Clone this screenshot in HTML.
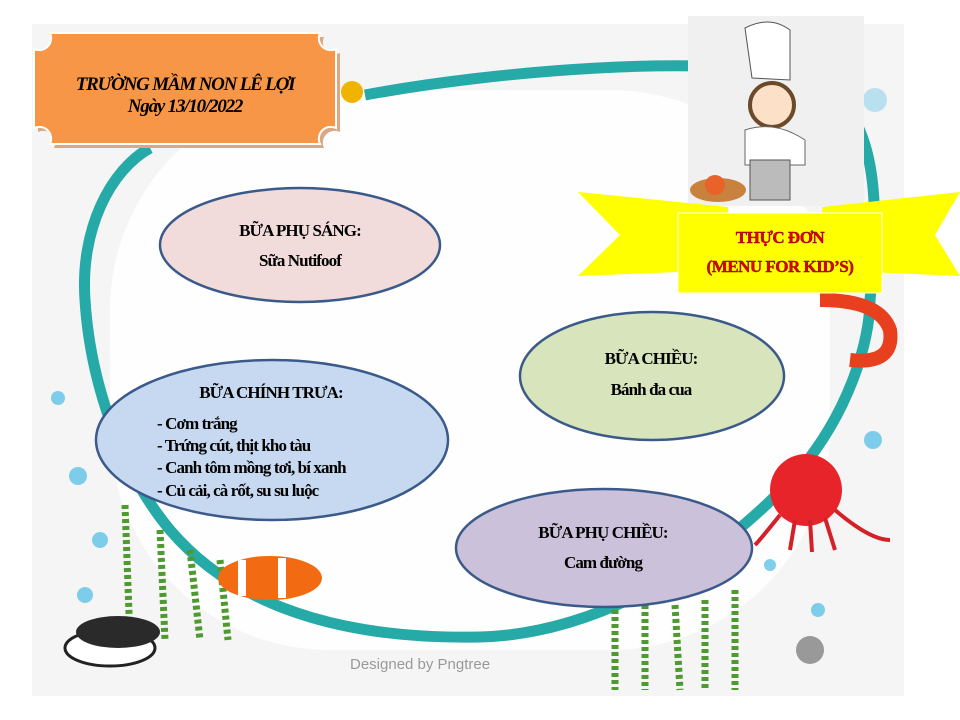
<!DOCTYPE html>
<html><head><meta charset="utf-8"><style>
body{margin:0;width:960px;height:720px;background:#fff;overflow:hidden;position:relative;font-family:"Liberation Serif","Noto Serif CJK SC",serif}
svg{position:absolute;left:0;top:0}
</style></head><body>
<svg width="960" height="720" viewBox="0 0 960 720">
<rect x="32" y="24" width="872" height="672" fill="#f5f5f5"/>
<rect x="110" y="90" width="720" height="560" rx="220" fill="#fefefe"/>
<!-- teal loop -->
<path d="M150,148 C110,170 80,230 85,300 C90,380 120,470 170,530 C230,600 330,640 480,637 C600,634 720,560 800,470 C850,410 870,340 870,300 C880,200 880,100 800,75 C700,55 500,70 365,95" fill="none" stroke="#26aaa7" stroke-width="11"/>
<circle cx="352" cy="92" r="11" fill="#f0b400"/>
<!-- bubbles -->
<g fill="#5fc2e8" opacity="0.8">
<circle cx="58" cy="398" r="7"/><circle cx="78" cy="476" r="9"/><circle cx="100" cy="540" r="8"/><circle cx="85" cy="595" r="8"/>
<circle cx="873" cy="440" r="9"/><circle cx="770" cy="565" r="6"/><circle cx="818" cy="610" r="7"/><circle cx="875" cy="100" r="12" opacity="0.5"/>
</g>
<!-- seaweed -->
<g stroke="#4e9a2e" stroke-width="7" fill="none" stroke-dasharray="4 3">
<path d="M125,505 L130,640"/><path d="M160,530 L165,640"/><path d="M190,550 L200,640"/><path d="M220,560 L228,640"/>
<path d="M615,610 L615,690"/><path d="M645,605 L645,690"/><path d="M675,605 L680,690"/><path d="M705,600 L705,690"/><path d="M735,590 L735,690"/>
</g>
<!-- clam -->
<ellipse cx="110" cy="648" rx="45" ry="18" fill="#fff" stroke="#222" stroke-width="3"/>
<ellipse cx="118" cy="632" rx="42" ry="16" fill="#2a2a2a"/>
<!-- fish -->
<ellipse cx="270" cy="578" rx="52" ry="22" fill="#f26a12"/>
<rect x="238" y="560" width="8" height="36" fill="#fff"/><rect x="278" y="558" width="8" height="40" fill="#fff"/>
<!-- octopus -->
<circle cx="806" cy="490" r="36" fill="#e8242b"/>
<g stroke="#d42028" stroke-width="4" fill="none"><path d="M780,515 Q760,540 755,545"/><path d="M795,520 L790,550"/><path d="M810,520 L812,552"/><path d="M825,518 L835,550"/><path d="M835,510 Q870,540 890,540"/></g>
<!-- shrimp -->
<path d="M820,300 Q880,300 890,330 Q895,365 850,360" fill="none" stroke="#e8401e" stroke-width="14"/>
<!-- snail -->
<circle cx="810" cy="650" r="14" fill="#999"/>
<text x="350" y="669" font-family="Liberation Sans,sans-serif" font-size="15" fill="#999">Designed by Pngtree</text>
<!-- orange label -->
<path d="M52,35 H322 A12,12 0 0 0 338,51 V130 A12,12 0 0 0 322,146 H52 A12,12 0 0 0 36,130 V51 A12,12 0 0 0 52,35 Z" fill="#d9a884" transform="translate(2,2)"/>
<path d="M50,33 H320 A12,12 0 0 0 336,49 V128 A12,12 0 0 0 320,144 H50 A12,12 0 0 0 34,128 V49 A12,12 0 0 0 50,33 Z" fill="#f79646" stroke="#fff" stroke-width="2"/>
<text x="185" y="90" text-anchor="middle" font-size="19" font-weight="bold" font-style="italic" letter-spacing="-1.2">TRƯỜNG MẦM NON LÊ LỢI</text>
<text x="185" y="112" text-anchor="middle" font-size="19" font-weight="bold" font-style="italic" letter-spacing="-1.2">Ngày 13/10/2022</text>
<!-- chef image -->
<rect x="688" y="16" width="176" height="190" fill="#f0f0f0"/>
<path d="M745,28 Q770,15 790,30 L790,80 L752,78 Z" fill="#fff" stroke="#555"/>
<circle cx="772" cy="105" r="22" fill="#fde0c8" stroke="#6b4a2a" stroke-width="4"/>
<path d="M745,130 Q775,120 805,140 L805,165 L745,165 Z" fill="#fff" stroke="#666"/>
<rect x="750" y="160" width="40" height="40" fill="#bbb" stroke="#555"/>
<ellipse cx="718" cy="190" rx="28" ry="12" fill="#c8823e"/>
<circle cx="715" cy="185" r="10" fill="#e8622a"/>
<!-- banner -->
<polygon points="578,192 728,207 728,270 578,276 620,235" fill="#ffff00"/>
<polygon points="960,192 822,207 822,270 960,276 935,235" fill="#ffff00"/>
<rect x="678" y="213" width="204" height="80" fill="#ffff00" stroke="#fff"/>
<text x="780" y="243" text-anchor="middle" font-size="17" font-weight="bold" fill="#e00000" stroke="#700" stroke-width="0.4" letter-spacing="-0.5">THỰC ĐƠN</text>
<text x="780" y="272" text-anchor="middle" font-size="17" font-weight="bold" fill="#e00000" stroke="#700" stroke-width="0.4" letter-spacing="-0.5">(MENU FOR KID’S)</text>
<!-- ellipses -->
<g stroke="#3b5a8a" stroke-width="2.5">
<ellipse cx="300" cy="245" rx="140" ry="57" fill="#f2dcdb"/>
<ellipse cx="272" cy="440" rx="176" ry="80" fill="#c6d9f0"/>
<ellipse cx="652" cy="376" rx="132" ry="64" fill="#d7e4bc"/>
<ellipse cx="604" cy="548" rx="148" ry="59" fill="#ccc1da"/>
</g>
<g font-size="17" font-weight="bold" letter-spacing="-0.9">
<text x="300" y="236" text-anchor="middle">BỮA PHỤ SÁNG:</text>
<text x="300" y="266" text-anchor="middle">Sữa Nutifoof</text>
<text x="271" y="398" text-anchor="middle">BỮA CHÍNH TRƯA:</text>
<text x="157" y="429">- Cơm trắng</text>
<text x="157" y="451">- Trứng cút, thịt kho tàu</text>
<text x="157" y="473">-  Canh tôm mồng tơi, bí xanh</text>
<text x="157" y="496">- Củ cải, cà rốt, su su luộc</text>
<text x="651" y="364" text-anchor="middle">BỮA CHIỀU:</text>
<text x="651" y="395" text-anchor="middle">Bánh đa cua</text>
<text x="603" y="538" text-anchor="middle">BỮA  PHỤ CHIỀU:</text>
<text x="603" y="568" text-anchor="middle">Cam đường</text>
</g>
</svg>
</body></html>
